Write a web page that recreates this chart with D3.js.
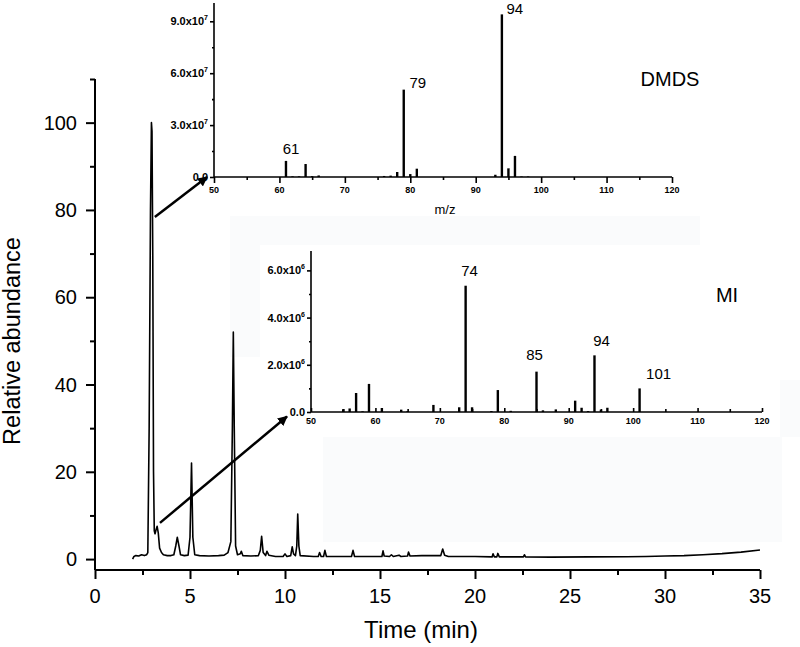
<!DOCTYPE html>
<html>
<head>
<meta charset="utf-8">
<script src="https://cdn.jsdelivr.net/npm/d3@7"></script>
<style>
  html, body { margin: 0; padding: 0; background: #ffffff; }
  svg { display: block; font-family: "Liberation Sans", Arial, sans-serif; }
</style>
</head>
<body>
<svg id="chart" width="800" height="647"></svg>
<script>
// ---------------- DATA ----------------
// Chromatogram (Time in min, relative abundance)
const chromTime = [
  1.98, 2.05, 2.15, 2.3, 2.45, 2.6, 2.72, 2.78, 2.85, 2.92, 2.97, 3.0, 3.04, 3.08, 3.12, 3.16, 3.2, 3.27, 3.33, 3.4, 3.5, 3.6,
  3.8, 4.0, 4.15, 4.25, 4.33, 4.42, 4.5, 4.7, 4.9, 5.0, 5.08, 5.15, 5.25, 5.5, 6.0, 6.5, 6.8, 7.0, 7.15, 7.23, 7.28, 7.33,
  7.4, 7.5, 7.65, 7.7, 7.78, 8.2, 8.6, 8.7, 8.77, 8.85, 8.98, 9.05, 9.15, 9.5, 9.9, 10.0, 10.1, 10.3, 10.38, 10.45, 10.55,
  10.62, 10.67, 10.73, 10.8, 11.5, 11.75, 11.82, 11.9, 12.03, 12.1, 12.18, 12.8, 13.5, 13.58, 13.66, 14.5, 15.1, 15.16,
  15.22, 15.5, 15.6, 15.7, 16.0, 16.1, 16.45, 16.5, 16.58, 17.2, 18.2, 18.3, 18.4, 18.6, 20.0, 20.9, 20.95, 21.02, 21.15,
  21.2, 21.28, 22.55, 22.6, 22.66, 24.0, 26.0, 28.0, 29.0, 30.0, 31.0, 32.0, 33.0, 34.0, 35.0
];
const chromAbund = [
  0.0, 0.6, 0.8, 0.7, 1.0, 0.8, 1.0, 1.5, 30, 80, 100, 98, 70, 20, 6.5, 5.8, 6.5, 7.5, 6.0, 2.5, 1.5, 1.0,
  0.8, 0.8, 1.0, 3.0, 5.0, 3.0, 1.0, 0.8, 0.9, 5.0, 22, 5.0, 1.0, 0.8, 0.7, 0.8, 0.9, 1.5, 4.0, 30, 52, 30,
  3.0, 1.0, 1.2, 1.8, 0.8, 0.7, 0.8, 2.0, 5.2, 1.5, 0.8, 1.8, 0.9, 0.6, 0.6, 1.2, 0.6, 0.8, 2.8, 1.2, 0.8,
  3.0, 10.3, 3.0, 0.8, 0.6, 0.6, 1.5, 0.6, 0.6, 2.0, 0.6, 0.6, 0.6, 2.0, 0.6, 0.6, 0.6, 1.9,
  0.7, 0.6, 1.0, 0.6, 0.9, 0.6, 0.7, 1.6, 0.7, 0.8, 0.8, 2.3, 0.9, 0.6, 0.6, 0.5, 1.2, 0.5, 0.5,
  1.3, 0.5, 0.5, 1.0, 0.5, 0.45, 0.5, 0.55, 0.6, 0.7, 0.8, 1.0, 1.25, 1.6, 2.1
];
const mainXTicks = [0, 5, 10, 15, 20, 25, 30, 35];
const mainYTicks = [0, 20, 40, 60, 80, 100];

// DMDS mass spectrum
const dmdsMz  = [61, 62, 63, 64, 65, 66, 76, 77, 78, 79, 80, 81, 93, 94, 95, 96, 97, 98];
const dmdsInt = [9.3e6, 4e5, 4e5, 7.5e6, 5e5, 9e5, 6e5, 8e5, 2.9e6, 5.05e7, 1.7e6, 4.8e6, 1.3e6, 9.4e7, 5.0e6, 1.22e7, 3e5, 3e5];
const dmdsLabels = [61, 79, 94];
const dmdsYTicks = [0, 3e7, 6e7, 9e7];

// MI mass spectrum
const miMz  = [55, 56, 57, 58, 59, 61, 64, 65, 69, 73, 74, 75, 78, 79, 81, 86, 85, 88, 91, 92, 93, 94, 95, 96, 101];
const miInt = [1.2e5, 1.5e5, 8.05e5, 3e4, 1.19e6, 1.7e5, 1.0e5, 4e4, 3.0e5, 2.0e5, 5.35e6, 2.0e5, 4e4, 9.3e5, 5e4, 7e4, 1.71e6, 1.1e5, 4.8e5, 1.8e5, 4e4, 2.4e6, 1.0e5, 1.8e5, 1.0e6];
const miLabels = [74, 85, 94, 101];
const miYTicks = [0, 2e6, 4e6, 6e6];

const msXTicks = [50, 60, 70, 80, 90, 100, 110, 120];

// ---------------- LAYOUT / STYLE ----------------
const svg = d3.select("#chart");
const FAINT = "#fafbfc";

// faint background patches seen in the picture
[[230, 216, 470, 29], [230, 245, 30, 112], [323, 437, 459, 105], [780, 380, 20, 57]].forEach(r => {
  svg.append("rect").attr("x", r[0]).attr("y", r[1]).attr("width", r[2]).attr("height", r[3]).attr("fill", FAINT);
});

function range(a, b, step) { const o = []; for (let v = a; v <= b + 1e-9; v += step) o.push(+v.toFixed(6)); return o; }

// ---------- main chart ----------
const x = d3.scaleLinear().domain([0, 35]).range([95, 760]);
const y = d3.scaleLinear().domain([-2.5, 110]).range([570, 79]);

const gMain = svg.append("g");
// x axis
const xAxisG = gMain.append("g").attr("transform", "translate(0,570)");
xAxisG.call(d3.axisBottom(x).tickValues(range(0, 35, 2.5)).tickSize(5).tickFormat(""));
xAxisG.call(g => g.selectAll(".tick").filter(d => mainXTicks.includes(d)).select("line").attr("y2", 9));
xAxisG.selectAll(".domain").attr("d", `M95,0H760`);
xAxisG.selectAll("line, path").attr("stroke", "#000").attr("stroke-width", 2);
mainXTicks.forEach(t => {
  xAxisG.append("text").attr("x", x(t)).attr("y", 33).attr("text-anchor", "middle")
    .attr("font-size", 20).attr("fill", "#000").text(t);
});
// y axis
const yAxisG = gMain.append("g").attr("transform", "translate(95,0)");
yAxisG.call(d3.axisLeft(y).tickValues(range(0, 110, 10)).tickSize(5).tickFormat(""));
yAxisG.call(g => g.selectAll(".tick").filter(d => mainYTicks.includes(d)).select("line").attr("x2", -9));
yAxisG.selectAll(".domain").attr("d", `M0,79V570`);
yAxisG.selectAll("line, path").attr("stroke", "#000").attr("stroke-width", 2);
mainYTicks.forEach(t => {
  yAxisG.append("text").attr("x", -18).attr("y", y(t) + 7).attr("text-anchor", "end")
    .attr("font-size", 20).attr("fill", "#000").text(t);
});
// titles
svg.append("text").attr("x", 421).attr("y", 638).attr("text-anchor", "middle")
  .attr("font-size", 24).attr("fill", "#000").text("Time (min)");
svg.append("text").attr("transform", "translate(20,341) rotate(-90)").attr("text-anchor", "middle")
  .attr("font-size", 23.5).attr("fill", "#000").text("Relative abundance");

// trace
const chromData = chromTime.map((t, i) => [t, chromAbund[i]]);
gMain.append("path").datum(chromData)
  .attr("d", d3.line().x(d => x(d[0])).y(d => y(d[1])))
  .attr("fill", "none").attr("stroke", "#000").attr("stroke-width", 1.6).attr("stroke-linejoin", "round");

// ---------- inset helper ----------
function supLabel(sel, v) {
  if (v === 0) { sel.text("0.0"); return; }
  const e = Math.floor(Math.log10(v));
  const m = (v / Math.pow(10, e)).toFixed(1);
  sel.text(m + "x10");
  sel.append("tspan").attr("font-size", 7).attr("dy", -5).text(e);
}

function drawSpectrum(opts) {
  const sx = d3.scaleLinear().domain([50, 120]).range(opts.xr);
  const sy = d3.scaleLinear().domain([0, opts.ymax]).range(opts.yr);
  const g = svg.append("g");
  // bars
  g.selectAll("line.bar").data(opts.mz.map((m, i) => [m, opts.int[i]])).enter().append("line")
    .attr("class", "bar")
    .attr("x1", d => sx(d[0])).attr("x2", d => sx(d[0]))
    .attr("y1", sy(0)).attr("y2", d => sy(d[1]))
    .attr("stroke", "#000").attr("stroke-width", 2.4);
  // x axis
  const xa = g.append("g").attr("transform", `translate(0,${sy(0)})`);
  const dir = opts.xTicksUp ? -1 : 1;
  xa.call(d3.axisBottom(sx).tickValues(range(50, 120, 5)).tickSize(3 * dir).tickFormat(""));
  xa.selectAll(".tick").filter(d => msXTicks.includes(d)).select("line").attr("y2", opts.xMajor * dir);
  xa.selectAll(".domain").attr("d", `M${opts.xr[0]},0H${opts.xr[1]}`);
  xa.selectAll("line, path").attr("stroke", "#000").attr("stroke-width", 1.6);
  msXTicks.forEach(t => {
    xa.append("text").attr("x", sx(t)).attr("y", opts.xLabelY).attr("text-anchor", "middle")
      .attr("font-size", 9).attr("font-weight", "bold").attr("fill", "#000").text(t);
  });
  // y axis
  const ya = g.append("g").attr("transform", `translate(${opts.xr[0]},0)`);
  ya.call(d3.axisLeft(sy).tickValues(opts.yMinor).tickSize(2).tickFormat(""));
  ya.selectAll(".tick").filter(d => opts.yTicks.includes(d)).select("line").attr("x2", -4);
  ya.selectAll(".domain").attr("d", `M0,${opts.yTop}V${sy(0)}`);
  ya.selectAll("line, path").attr("stroke", "#000").attr("stroke-width", 1.6);
  opts.yTicks.forEach(t => {
    ya.append("text").attr("x", -6).attr("y", sy(t) + 4).attr("text-anchor", "end")
      .attr("font-size", 11).attr("font-weight", "bold").attr("fill", "#000").call(supLabel, t);
  });
  // peak labels
  opts.labels.forEach(m => {
    const i = opts.mz.indexOf(m);
    const off = opts.labelOffsets[m];
    g.append("text").attr("x", sx(m) + off[0]).attr("y", sy(opts.int[i]) + off[1])
      .attr("text-anchor", "middle").attr("font-size", 15).attr("fill", "#000").text(m);
  });
  // name
  g.append("text").attr("x", opts.namePos[0]).attr("y", opts.namePos[1]).attr("text-anchor", "middle")
    .attr("font-size", 20).attr("fill", "#000").text(opts.name);
  return { sx, sy };
}

const dm = drawSpectrum({
  mz: dmdsMz, int: dmdsInt, labels: dmdsLabels, yTicks: dmdsYTicks,
  yMinor: range(0, 9.75e7, 1.5e7).map(v => Math.round(v)),
  ymax: 1.0e8, xr: [214, 672], yr: [177, 4], yTop: 3, xTicksUp: false, xMajor: 6, xLabelY: 16,
  labelOffsets: { 61: [5, -7], 79: [14, -2], 94: [13, 0] },
  name: "DMDS", namePos: [670, 86]
});
svg.append("text").attr("x", 445).attr("y", 214).attr("text-anchor", "middle")
  .attr("font-size", 13).attr("fill", "#000").text("m/z");

const mi = drawSpectrum({
  mz: miMz, int: miInt, labels: miLabels, yTicks: miYTicks,
  yMinor: range(0, 6e6, 1e6).map(v => Math.round(v)),
  ymax: 6.8e6, xr: [311, 762], yr: [412, 251.5], yTop: 251, xTicksUp: true, xMajor: 4, xLabelY: 12,
  labelOffsets: { 74: [4, -10], 85: [-2, -12], 94: [7, -9], 101: [19, -9] },
  name: "MI", namePos: [727, 302]
});

// ---------- arrows ----------
const defs = svg.append("defs");
defs.append("marker").attr("id", "ah").attr("viewBox", "0 0 10 10").attr("refX", 9).attr("refY", 5)
  .attr("markerWidth", 4).attr("markerHeight", 4).attr("orient", "auto")
  .append("path").attr("d", "M0,0L10,5L0,10z").attr("fill", "#000");

const arrows = [
  { from: [x(3.15), y(78.4)], to: [dm.sx(50) - 7, dm.sy(0)] },
  { from: [x(3.42), y(8.3)], to: [mi.sx(50) - 24, mi.sy(0) + 4.5] }
];
arrows.forEach(a => {
  svg.append("line").attr("x1", a.from[0]).attr("y1", a.from[1]).attr("x2", a.to[0]).attr("y2", a.to[1])
    .attr("stroke", "#000").attr("stroke-width", 2.5).attr("marker-end", "url(#ah)");
});
</script>
</body>
</html>
